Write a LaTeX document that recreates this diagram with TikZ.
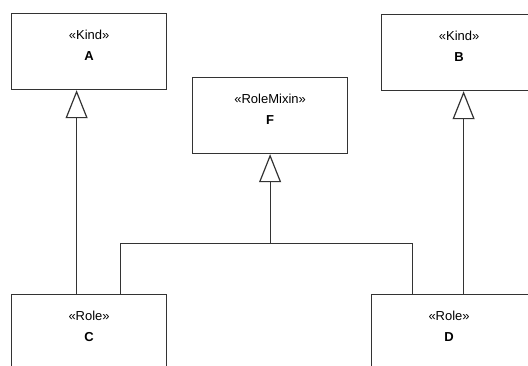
\documentclass[tikz,border=0pt]{standalone}
\usepackage{fontspec}
\setmainfont{Liberation Sans}
\usetikzlibrary{positioning,arrows.meta}

\begin{document}
\begin{tikzpicture}[x=1pt, y=-1pt, font=\fontsize{13}{15}\selectfont,
  line width=1.2pt, draw=black!80,
  cls/.style={draw, minimum width=155pt, minimum height=76pt, anchor=north west, inner sep=0pt,
    label={[anchor=north, align=center, inner sep=0pt, yshift=-16pt]north:#1}},
  cut/.style={minimum width=175pt, label={[anchor=north, align=center, inner sep=0pt, yshift=-16pt, xshift=-10pt]north:#1}},
  gen/.style={-{Triangle[open, length=28pt, width=22pt, fill=white]}}]
\useasboundingbox (0,0) rectangle (528,365);
\clip (0,0) rectangle (528,365);
% classes
\node[cls={«Kind»\\[6pt]\textbf{A}}] (A) at (11,13) {};
\node[cls={«RoleMixin»\\[6pt]\textbf{F}}] (F) at (192,77) {};
\node[draw, anchor=north west, minimum height=76pt, cut={«Kind»\\[6pt]\textbf{B}}] (B) at (381,14) {};
\node[cls={«Role»\\[6pt]\textbf{C}}] (C) at (11,294) {};
\node[draw, anchor=north west, minimum height=76pt, cut={«Role»\\[6pt]\textbf{D}}] (D) at (371,294) {};
% generalizations
\coordinate (ac) at ([xshift=-12.5pt]A.south);
\coordinate (bd) at ([xshift=-5.5pt]B.south);
\coordinate (fj) at ([yshift=-89pt]F.south);
\coordinate (cb) at ([xshift=31pt]C.north);
\coordinate (db) at ([xshift=-46.5pt]D.north);
\draw[gen] (C.north -| ac) -- (ac);
\draw[gen] (D.north -| bd) -- (bd);
\draw (cb) |- (fj) -| (db);
\draw[gen] (fj) -- (F.south);
\end{tikzpicture}
\end{document}
